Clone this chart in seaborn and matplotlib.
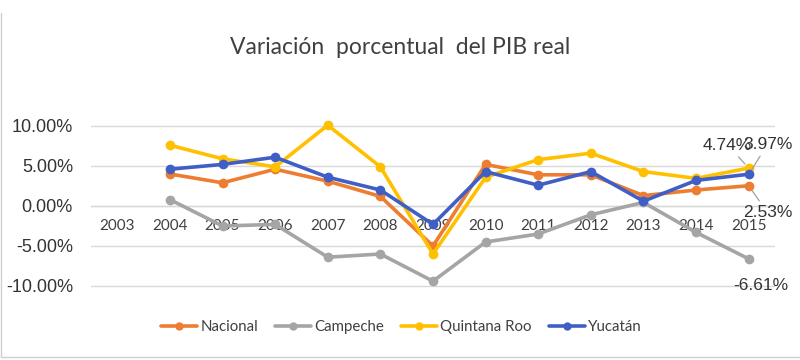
import numpy as np
import pandas as pd
import matplotlib
matplotlib.use("Agg")
import matplotlib.pyplot as plt
from matplotlib.lines import Line2D
import seaborn as sns

years = ["2003", "2004", "2005", "2006", "2007", "2008", "2009",
         "2010", "2011", "2012", "2013", "2014", "2015"]
series_names = ["Nacional", "Campeche", "Quintana Roo", "Yucatán"]
nacional = [np.nan, 4.0, 2.9, 4.6, 3.1, 1.2, -5.0, 5.2, 3.9, 3.9, 1.3, 2.0, 2.53]
campeche = [np.nan, 0.8, -2.5, -2.3, -6.4, -6.0, -9.4, -4.5, -3.5, -1.1, 0.45, -3.3, -6.61]
quintana_roo = [np.nan, 7.6, 5.9, 4.9, 10.1, 4.9, -6.0, 3.6, 5.8, 6.6, 4.3, 3.45, 4.74]
yucatan = [np.nan, 4.6, 5.2, 6.1, 3.6, 2.0, -2.3, 4.3, 2.6, 4.3, 0.6, 3.2, 3.97]
colors = ["#ED7D31", "#A5A5A5", "#FFC000", "#3F5FC6"]
yticks = [-10, -5, 0, 5, 10]

values = [nacional, campeche, quintana_roo, yucatan]
rows = []
for name, vals in zip(series_names, values):
    for i, (yr, v) in enumerate(zip(years, vals)):
        rows.append({"pos": i, "year": yr, "serie": name, "val": v})
df = pd.DataFrame(rows).dropna()

sns.set_theme(style="white")
plt.rcParams["font.family"] = ["Liberation Sans", "DejaVu Sans"]

fig = plt.figure(figsize=(8, 3.6), dpi=100)
ax = fig.add_axes([91 / 800, 1 - 294 / 360, (775 - 91) / 800, (294 - 110) / 360])

sns.lineplot(data=df, x="pos", y="val", hue="serie", hue_order=series_names,
             palette=colors, marker="o", markersize=7, markeredgewidth=0,
             linewidth=2.6, ax=ax, legend=False, zorder=3)

ax.set_xlim(-0.5, len(years) - 0.5)
ax.set_ylim(-11, 12)
ax.set_yticks(yticks)
ax.set_yticklabels([f"{t:.2f}%" for t in yticks], fontsize=13, color="#333333")
ax.yaxis.grid(True, color="#D9D9D9", linewidth=1)
ax.xaxis.grid(False)
for s in ["top", "right", "left"]:
    ax.spines[s].set_visible(False)
ax.spines["bottom"].set_position(("data", 0))
ax.spines["bottom"].set_color("#D9D9D9")
ax.spines["bottom"].set_linewidth(1)
ax.set_xticks(range(len(years)))
ax.set_xticklabels(years, fontsize=11, color="#404040", family=["Lato", "DejaVu Sans"])
ax.tick_params(axis="x", length=0, pad=9)
ax.tick_params(axis="y", length=0, pad=13)
ax.set_xlabel("")
ax.set_ylabel("")

# data labels for the last point
last = len(years) - 1
lab_offsets = {
    "Quintana Roo": (-21, 23, True),
    "Yucatán": (19, 30, True),
    "Nacional": (19, -27, True),
    "Campeche": (12, -27, False),
}
for name, vals in zip(series_names, values):
    dx, dy, leader = lab_offsets[name]
    ap = dict(arrowstyle="-", color="#A0A0A0", lw=0.9, shrinkA=1, shrinkB=4) if leader else None
    ax.annotate(f"{vals[last]:.2f}%", xy=(last, vals[last]), xytext=(dx, dy),
                textcoords="offset pixels", ha="center", va="center",
                fontsize=12.5, color="#333333", arrowprops=ap, zorder=5)

fig.text(0.5, 1 - 47 / 360, "Variación  porcentual  del PIB real", ha="center", va="center",
         fontsize=16.5, color="#404040", family=["Lato", "DejaVu Sans"])

handles = [Line2D([0], [0], color=c, lw=2.6, marker="o", markersize=6, markeredgewidth=0)
           for c in colors]
fig.legend(handles, series_names, loc="center", bbox_to_anchor=(0.502, 1 - 327 / 360),
           ncol=4, frameon=False, handlelength=2.4, handletextpad=0.2, columnspacing=1.15,
           prop={"family": ["Lato", "DejaVu Sans"], "size": 10.8}, labelcolor="#404040")

# chart border (left and bottom edges visible)
fig.add_artist(Line2D([0.001, 0.001], [3 / 360, 1 - 13 / 360], transform=fig.transFigure,
                      color="#D0D0D0", lw=1))
fig.add_artist(Line2D([0.001, 1.0], [3 / 360, 3 / 360], transform=fig.transFigure,
                      color="#D0D0D0", lw=1))

fig.savefig("out.png", dpi=100, facecolor="white")
